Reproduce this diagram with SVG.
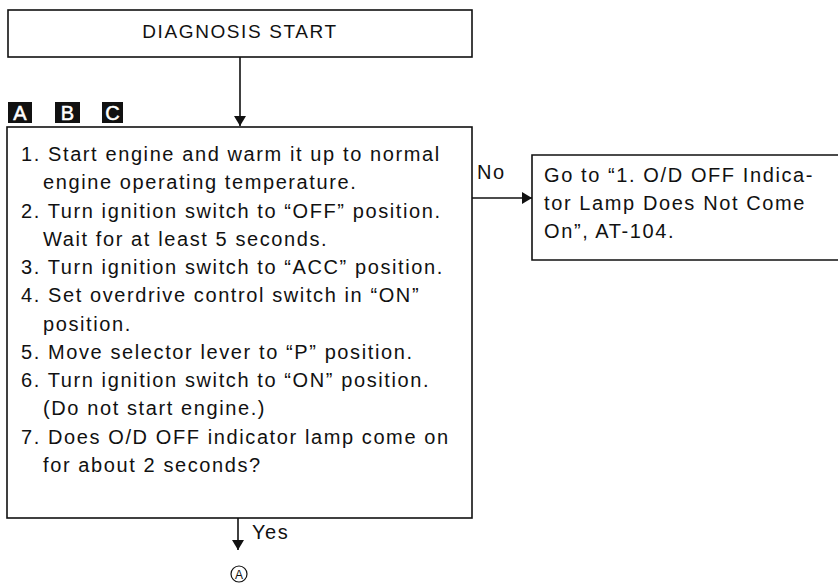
<svg xmlns="http://www.w3.org/2000/svg" width="838" height="586" viewBox="0 0 838 586">
<style>
.box{fill:#fff;stroke:#111;stroke-width:1.6}
.t{font-family:"Liberation Sans",Arial,sans-serif;font-size:20px;letter-spacing:1.6px;fill:#111}
.h{font-family:"Liberation Sans",Arial,sans-serif;font-size:19px;letter-spacing:1.6px;fill:#111}
.badge{fill:#111}
.bt{font-family:"Liberation Sans",Arial,sans-serif;font-size:20px;fill:#fff;text-anchor:middle;stroke:#fff;stroke-width:0.5}
.ln{stroke:#111;stroke-width:1.6;fill:none}
</style>
<defs>
<marker id="ah" viewBox="0 0 10 12" refX="10" refY="6" markerWidth="10" markerHeight="12" markerUnits="userSpaceOnUse" orient="auto">
<path d="M0,0 L10,6 L0,12 Z" fill="#111"/>
</marker>
</defs>
<g id="start">
<rect class="box" x="8" y="10" width="464" height="47"/>
<text class="h" x="240" y="38" text-anchor="middle">DIAGNOSIS START</text>
</g>
<g id="badges">
<rect class="badge" x="8" y="102" width="24" height="21"/>
<text class="bt" x="20" y="120">A</text>
<rect class="badge" x="55" y="102" width="25" height="21"/>
<text class="bt" x="67.5" y="120">B</text>
<rect class="badge" x="102" y="102" width="21" height="21"/>
<text class="bt" x="112.5" y="120">C</text>
</g>
<g id="check">
<rect class="box" x="7" y="127" width="465" height="391"/>
<text class="t" x="21" y="161">1. Start engine and warm it up to normal</text>
<text class="t" x="43" y="189">engine operating temperature.</text>
<text class="t" x="21" y="218">2. Turn ignition switch to “OFF” position.</text>
<text class="t" x="43" y="246">Wait for at least 5 seconds.</text>
<text class="t" x="21" y="274">3. Turn ignition switch to “ACC” position.</text>
<text class="t" x="21" y="302">4. Set overdrive control switch in “ON”</text>
<text class="t" x="43" y="331">position.</text>
<text class="t" x="21" y="359">5. Move selector lever to “P” position.</text>
<text class="t" x="21" y="387">6. Turn ignition switch to “ON” position.</text>
<text class="t" x="43" y="415">(Do not start engine.)</text>
<text class="t" x="21" y="444">7. Does O/D OFF indicator lamp come on</text>
<text class="t" x="43" y="472">for about 2 seconds?</text>
</g>
<g id="goto">
<path class="ln" d="M838,155 L532,155 L532,260 L838,260"/>
<text class="t" x="544" y="182">Go to “1. O/D OFF Indica-</text>
<text class="t" x="544" y="210">tor Lamp Does Not Come</text>
<text class="t" x="544" y="238">On”, AT-104.</text>
</g>
<g id="refA">
<circle cx="239" cy="574" r="8" fill="none" stroke="#111" stroke-width="1.2"/>
<text x="239" y="578.5" text-anchor="middle" style="font-family:'Liberation Sans',Arial,sans-serif;font-size:12px;fill:#111">A</text>
</g>
<g id="connectors">
<line class="ln" x1="240" y1="57" x2="240" y2="126" marker-end="url(#ah)"/>
<line class="ln" x1="472" y1="198" x2="532" y2="198" marker-end="url(#ah)"/>
<text class="t" x="477" y="179">No</text>
<line class="ln" x1="238" y1="518" x2="238" y2="550" marker-end="url(#ah)"/>
<text class="t" x="252" y="539">Yes</text>
</g>
</svg>
